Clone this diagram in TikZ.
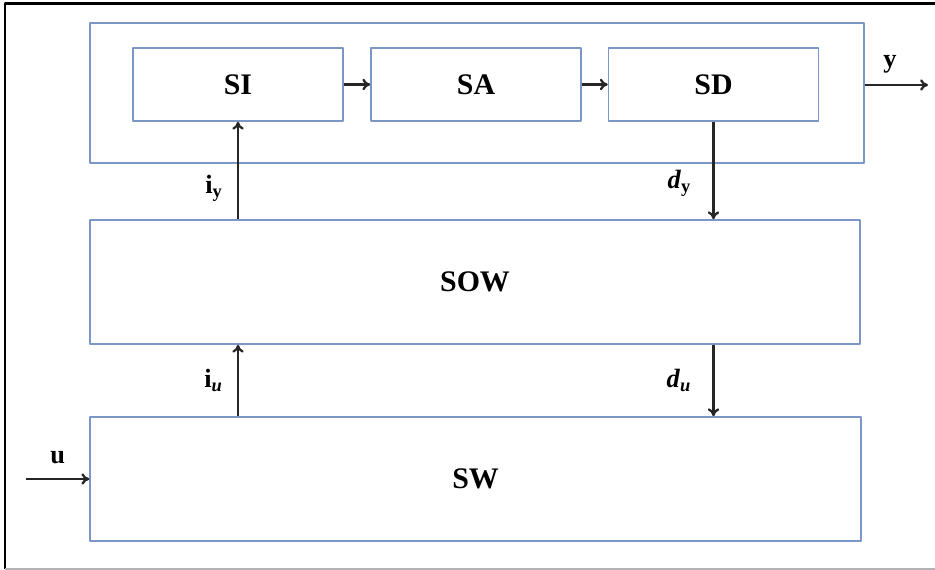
\documentclass[tikz,border=0pt]{standalone}
\usepackage{fontspec}
\setmainfont{Liberation Serif}
\usetikzlibrary{arrows.meta}
\definecolor{boxblue}{RGB}{125,150,200}
\tikzset{
	blk/.style={draw=boxblue, line width=0.9pt, inner sep=0pt, font=\fontsize{17}{20}\selectfont\bfseries},
	lbl/.style={font=\fontsize{15}{17}\selectfont\bfseries, inner sep=2pt},
	sig/.style={->, line width=1.3pt, draw=black!85}
}
\begin{document}
\begin{tikzpicture}[x=0.02cm, y=-0.02cm, >={To[length=4.5pt,width=6.5pt]}, line join=round]
		\useasboundingbox (0,0) rectangle (935,570);
		% frame
		\draw[line width=1.7pt] (935,4)--(5,4)--(5,569);
		\draw[gray!60, line width=0.6pt] (5,569)--(935,569);
		% blocks
		\node[blk, minimum width=15.48cm, minimum height=2.8cm] (sys) at (477,93) {};
		\node[blk, minimum width=4.2cm, minimum height=1.46cm] (SI) at (238,84.5) {SI};
		\node[blk, minimum width=4.2cm, minimum height=1.46cm] (SA) at (476,84.5) {SA};
		\node[blk, minimum width=4.2cm, minimum height=1.46cm] (SD) at (713.5,84.5) {SD};
		\node[blk, minimum width=15.4cm, minimum height=2.48cm] (SOW) at (475,282) {SOW};
		\node[blk, minimum width=15.42cm, minimum height=2.48cm] (SW) at (475.5,479) {SW};
		\coordinate (yout) at (928,85);
		\coordinate (uin) at (26,479);
		% signals
		\draw[sig] (SI) -- (SA);
		\draw[sig] (SA) -- (SD);
		\draw[sig] (sys.east |- yout) -- node[lbl, above=4pt, pos=0.4]{y} (yout);
		\draw[sig] (uin) -- node[lbl, above=6pt]{u} (SW.west |- uin);
		\draw[sig] (SOW.north -| SI.south) -- node[lbl, left=6pt, pos=0.32]{i\textsubscript{y}} (SI.south);
		\draw[sig] (SD.south) -- node[lbl, left=10pt, pos=0.63]{\textit{d}\textsubscript{y}} (SOW.north -| SD.south);
		\draw[sig] (SW.north -| SI.south) -- node[lbl, left=6pt, pos=0.5]{i\textsubscript{\textit{u}}} (SOW.south -| SI.south);
		\draw[sig] (SOW.south -| SD.south) -- node[lbl, left=10pt, pos=0.5]{\textit{d}\textsubscript{\textit{u}}} (SW.north -| SD.south);
\end{tikzpicture}
\end{document}
